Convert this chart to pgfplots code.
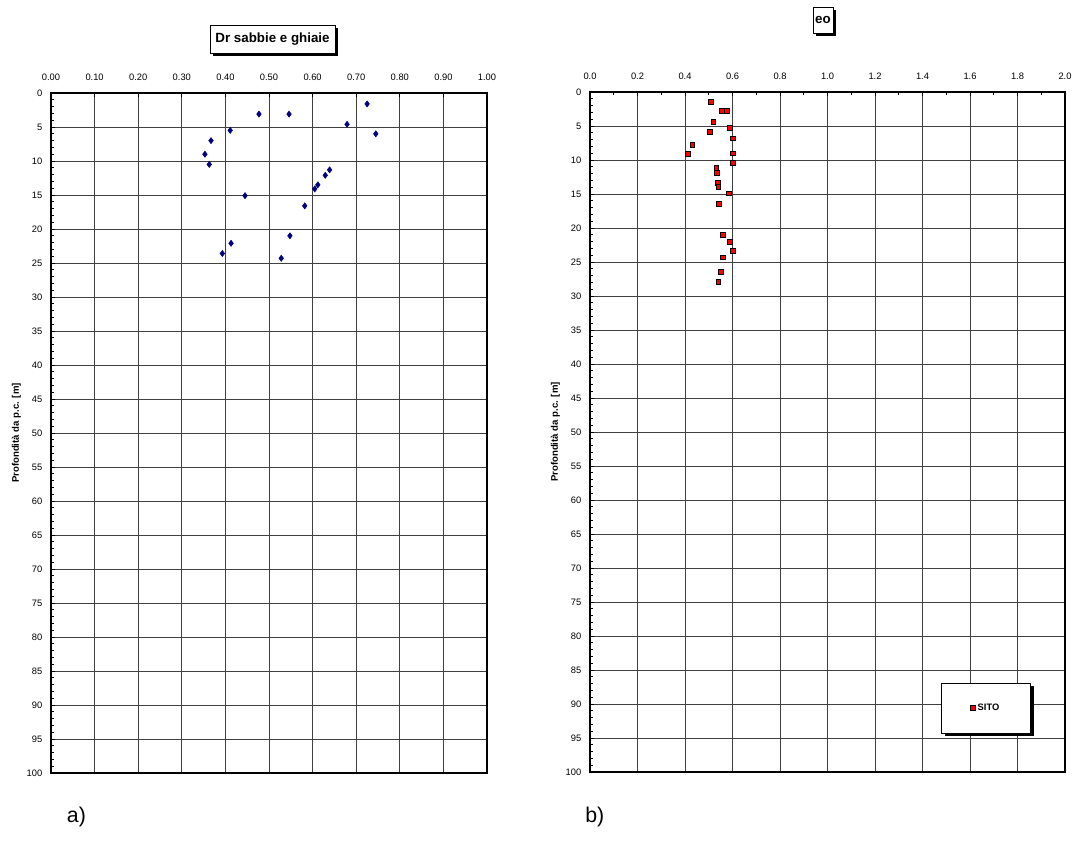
\documentclass[border=0pt]{standalone}
\usepackage{pgfplots}
\pgfplotsset{compat=1.18}
\usepackage{fontspec}
\setmainfont{Liberation Sans}
\usetikzlibrary{shadows}
\pgfplotsset{
  myax/.style={
    scale only axis, height=510pt,
    y dir=reverse, ymin=0, ymax=100,
    ytick={0,5,...,100}, minor y tick num=4,
    xticklabel pos=top, xtick pos=top, ytick pos=left,
    grid=major,
    major grid style={black!75, line width=0.5pt},
    axis line style={line width=1.1pt},
    tick style={black, line width=0.5pt},
    major tick length=3pt, minor tick length=2.5pt, tick align=inside,
    tick label style={font=\fontsize{7}{8}\selectfont},
    yticklabel style={xshift=-3pt},
    /pgf/number format/assume math mode=true,
    ylabel={Profondità da p.c. [m]},
    ylabel style={font=\fontsize{7.2}{8}\selectfont\bfseries, yshift=-2.5pt},
    clip=false,
  }
}
\tikzset{titlebox/.style={draw=black, fill=white, line width=0.5pt, font=\fontsize{10}{12}\selectfont\bfseries,
    inner sep=0pt, drop shadow={shadow xshift=2.2pt, shadow yshift=-2.2pt, opacity=1, fill=black}}}
\begin{document}
\begin{tikzpicture}
\useasboundingbox (0,0) rectangle (807pt,-633pt);
% ---------- left plot ----------
\begin{axis}[myax, at={(38.25pt,-579.75pt)}, anchor=south west, width=327pt,
  xmin=0, xmax=1, xtick={0,0.1,0.2,0.3,0.4,0.5,0.6,0.7,0.8,0.9,1},
  xticklabel style={yshift=6pt, /pgf/number format/.cd, fixed, fixed zerofill, precision=2}]
\addplot[only marks, mark=diamond*, mark size=2.3pt, color={rgb,255:red,0;green,0;blue,128}] coordinates {
(0.725,1.6) (0.477,3.1) (0.546,3.1) (0.679,4.6) (0.411,5.5) (0.745,6.0) (0.367,7.0)
(0.353,9.0) (0.363,10.5) (0.639,11.3) (0.629,12.1) (0.612,13.5) (0.605,14.1)
(0.445,15.1) (0.582,16.6) (0.548,21.0) (0.413,22.1) (0.393,23.6) (0.528,24.3)};
\end{axis}
% ---------- right plot ----------
\begin{axis}[myax, at={(442.5pt,-579pt)}, anchor=south west, width=356.25pt,
  xmin=0, xmax=2, xtick={0,0.2,0.4,0.6,0.8,1.0,1.2,1.4,1.6,1.8,2.0}, minor x tick num=1,
  xticklabel style={yshift=6pt, /pgf/number format/.cd, fixed, fixed zerofill, precision=1},
  legend style={at={(axis description cs:0.834,0.094)}, anchor=center, draw=none, fill=none,
    font=\fontsize{7}{8}\selectfont\bfseries, legend cell align=left}]
\node[draw=black, fill=white, line width=0.5pt, minimum width=66.75pt, minimum height=37.5pt,
  drop shadow={shadow xshift=2.5pt, shadow yshift=-2.5pt, opacity=1, fill=black}]
  at (axis description cs:0.834,0.094) {};
\addplot[only marks, mark=square*, mark size=1.8pt, draw=black, fill=red, mark options={line width=0.4pt}] coordinates {
(0.508,1.4) (0.556,2.8) (0.575,2.8) (0.519,4.4) (0.589,5.3) (0.504,5.9) (0.60,6.8)
(0.431,7.75) (0.60,9.0) (0.413,9.1) (0.60,10.4) (0.532,11.1) (0.535,11.9) (0.538,13.4)
(0.540,13.9) (0.585,14.9) (0.543,16.4) (0.56,21.0) (0.59,22.0) (0.60,23.3) (0.56,24.3)
(0.55,26.4) (0.54,27.9)};
\addlegendentry{SITO}
\end{axis}
% ---------- titles ----------
\node[titlebox, minimum width=93.75pt, minimum height=21pt] at (204.4pt,-29.25pt) {Dr sabbie e ghiaie};
\node[titlebox, minimum width=15pt, minimum height=19.5pt] at (617.25pt,-15pt) {eo};
% ---------- panel labels ----------
\node[anchor=west, font=\fontsize{16}{19}\selectfont, inner sep=0pt] at (50pt,-613pt) {a)};
\node[anchor=west, font=\fontsize{16}{19}\selectfont, inner sep=0pt] at (438.75pt,-613pt) {b)};
\end{tikzpicture}
\end{document}
